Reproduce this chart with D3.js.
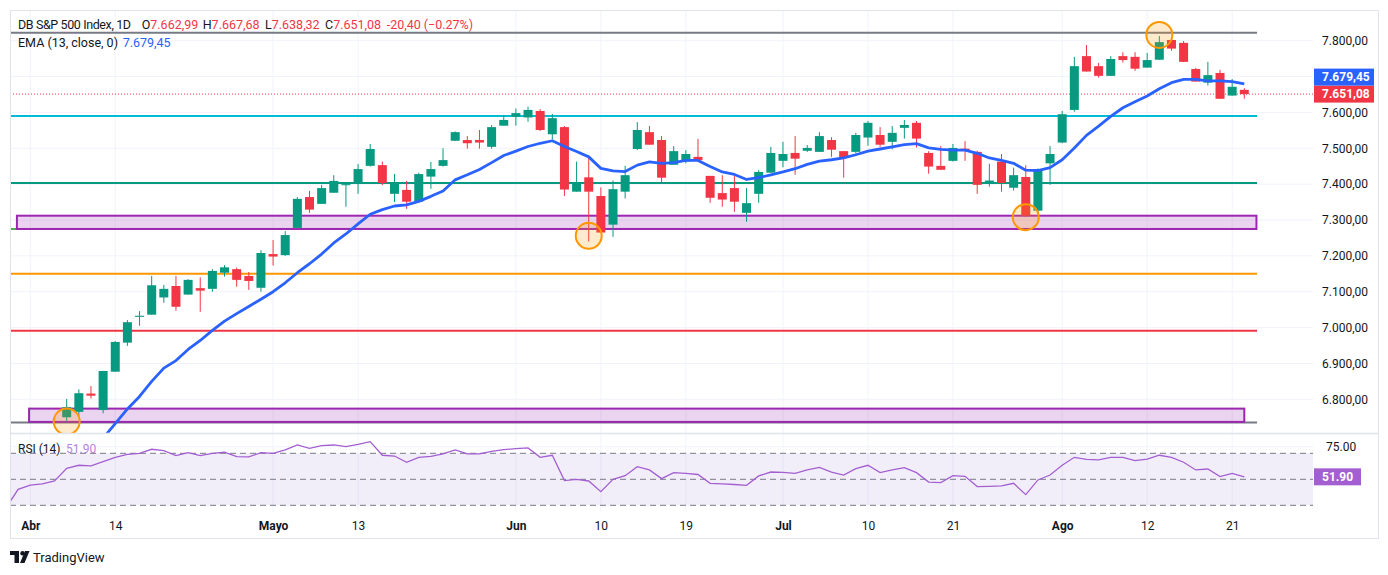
<!DOCTYPE html>
<html>
<head>
<meta charset="utf-8">
<script src="https://cdn.jsdelivr.net/npm/d3@7"></script>
<style>
  body { margin: 0; background: #fff; }
  text { font-family: Roboto, "Noto Sans", sans-serif; }
</style>
</head>
<body>
<div id="chart"></div>
<script>
// daily candles, index 0 = first visible bar
const opens  = [6750,6765,6816,6770,6877,6958,7030,7036,7084,7116,7092,7110,7108,7153,7163,7144,7111,7205,7202,7278,
                7364,7345,7376,7397,7404,7451,7453,7373,7384,7351,7421,7451,7521,7523,7523,7504,7563,7588,7586,7604,
                7539,7559,7379,7419,7367,7287,7379,7498,7545,7523,7454,7463,7476,7423,7375,7389,7320,7373,7432,7465,
                7487,7493,7490,7523,7492,7490,7530,7537,7518,7557,7571,7487,7451,7465,7499,7490,7404,7463,7390,7420,
                7326,7458,7516,7607,7757,7729,7702,7757,7755,7725,7747,7802,7794,7721,7683,7710,7647,7662.99];
const highs  = [6801,6828,6837,6879,6962,7021,7046,7144,7119,7144,7135,7140,7163,7174,7167,7155,7216,7244,7269,7364,
                7381,7398,7425,7401,7456,7512,7463,7428,7409,7432,7462,7500,7547,7534,7551,7565,7593,7611,7616,7609,
                7596,7562,7463,7479,7391,7410,7451,7573,7562,7534,7506,7495,7526,7423,7425,7425,7389,7439,7504,7518,
                7534,7509,7545,7531,7492,7543,7576,7559,7562,7579,7576,7492,7506,7512,7520,7493,7457,7484,7446,7453,
                7444,7506,7604,7755,7788,7738,7757,7768,7768,7766,7813,7802,7799,7724,7741,7719,7693,7667.68];
const lows   = [6740,6749,6802,6761,6877,6949,7005,7036,7069,7047,7092,7044,7100,7142,7114,7105,7100,7173,7200,7275,
                7320,7345,7376,7337,7373,7449,7397,7350,7331,7351,7387,7449,7520,7499,7499,7499,7563,7563,7574,7548,
                7525,7367,7379,7240,7265,7253,7360,7495,7510,7402,7454,7458,7463,7348,7337,7323,7295,7348,7432,7447,
                7426,7490,7490,7476,7418,7486,7507,7504,7497,7527,7502,7429,7440,7463,7465,7373,7393,7379,7382,7308,
                7317,7398,7514,7602,7714,7697,7702,7739,7716,7725,7747,7772,7741,7686,7675,7638,7647,7638.32];
const closes = [6778,6817,6810,6879,6960,7015,7033,7118,7108,7058,7133,7103,7158,7168,7133,7130,7208,7198,7258,7359,
                7329,7389,7409,7400,7442,7498,7403,7402,7351,7428,7442,7467,7545,7514,7516,7559,7579,7598,7607,7551,
                7584,7385,7401,7379,7265,7386,7425,7551,7510,7418,7492,7484,7467,7362,7357,7351,7347,7434,7487,7484,
                7471,7501,7534,7496,7475,7537,7571,7510,7543,7565,7527,7449,7440,7501,7493,7398,7410,7403,7425,7312,
                7440,7484,7595,7729,7714,7702,7749,7746,7722,7746,7796,7778,7741,7686,7704,7638,7671.48,7651.08];

// EMA(13), one value per bar
const emaValues = [6578,6614,6650,6692,6732,6773,6808,6850,6887,6908,6939,6964,6992,7018,7039,7059,7079,7100,7125,7153,
                   7178,7205,7236,7261,7289,7316,7329,7339,7342,7352,7366,7381,7412,7426,7441,7460,7480,7492,7505,7514,
                   7521,7505,7491,7476,7444,7437,7435,7453,7462,7458,7460,7466,7466,7449,7434,7427,7413,7418,7426,7434,
                   7443,7455,7464,7468,7473,7482,7492,7498,7504,7510,7513,7501,7497,7495,7495,7486,7473,7466,7458,7439,
                   7438,7446,7468,7501,7536,7562,7589,7613,7630,7646,7666,7683,7692,7692,7688,7688,7686,7679.45];

// RSI(14), starts 5 bars before the first visible candle
const rsiStart = -5;
const rsiValues = [28,42.3,45.6,46.4,48.7,
                   58.5,60.8,60.3,63.6,66.9,69.2,70,73.1,72,68.2,70.5,68.2,70,70.8,67.4,67.2,70.5,70,72.6,76.4,
                   73.8,75.9,76.4,75.1,76.9,79,68.5,67.9,63.1,66.9,67.7,69.5,72.6,69.5,69.5,71.5,72.8,73.6,74.1,66.9,
                   68.5,49,50,48.7,40.5,50,52.8,59.7,57.2,50.5,55.1,54.6,53.7,46.9,46.5,46,45.4,52.6,55.6,55.4,
                   54.6,57.2,59.2,55.6,53.3,58.2,60.8,55.1,57.2,59,55.1,47.9,47.4,52.8,52.3,44.4,44.6,44.9,46.9,38.2,
                   49.5,53.3,60.8,66.9,65.4,64.9,66.9,66.9,64.4,65.6,68.5,66.9,63.1,57.2,57.9,52.1,54.6,51.9];

// time axis
const tickIndex  = [-3, 4, 17, 24, 37, 44, 51, 59, 66, 73, 82, 89, 96];
const tickLabels = ["Abr","14","Mayo","13","Jun","10","19","Jul","10","21","Ago","12","21"];
const tickMonth  = [true,false,true,false,true,false,false,true,false,false,true,false,false];

// price axis
const priceTicks = d3.range(6800, 7801, 100);

// drawn horizontal levels
const levelPrices = [7822, 7590, 7403, 7150, 6991, 6735];
const levelColors = ["#787b86", "#00bcd4", "#089981", "#ff9800", "#f23645", "#787b86"];
// drawn rectangles
const zoneLow  = [7275, 6737];
const zoneHigh = [7312, 6774];
const zoneFrom = [-4.1, -3.1];
const zoneTo   = [98.0, 97.0];
// short stub left of the upper zone
const stubPrice = 7275;
// highlighted pivots
const markIndex = [90, 43, 79, 0];
const markPrice = [7816, 7256, 7308, 6738];

const width = 1388, height = 575;
const fL = 10, fR = 1378, fT = 10, fB = 538;
const plotRight = 1313;
const paneSplit = 433.5, rsiBottom = 512;

const x = d3.scaleLinear().domain([0, 97]).range([66.7, 1244.3]);
const y = d3.scaleLinear().domain([6800, 7800]).range([399.3, 40.7]);
const yr = d3.scaleLinear().domain([30, 70]).range([505.3, 453.3]);
const lineFrom = -4.7, lineTo = 98.05;

const locale = d3.formatLocale({decimal: ",", thousands: ".", grouping: [3], currency: ["", ""], minus: "-"});
const fmt = locale.format(",.2f");

const up = "#089981", down = "#f23645", grid = "#f0f3fa", textCol = "#131722";

const svg = d3.select("#chart").append("svg")
    .attr("width", width)
    .attr("height", height);

const defs = svg.append("defs");
defs.append("clipPath").attr("id", "clipPrice")
  .append("rect").attr("x", fL).attr("y", fT).attr("width", plotRight - fL).attr("height", paneSplit - fT);
defs.append("clipPath").attr("id", "clipRsi")
  .append("rect").attr("x", fL).attr("y", paneSplit).attr("width", plotRight - fL).attr("height", rsiBottom - paneSplit);

// gridlines
const gridG = svg.append("g");
gridG.selectAll("line.v")
  .data(tickIndex)
  .join("line")
    .attr("class", "v")
    .attr("x1", d => x(d)).attr("x2", d => x(d))
    .attr("y1", fT).attr("y2", rsiBottom)
    .attr("stroke", grid);
gridG.selectAll("line.h")
  .data(priceTicks)
  .join("line")
    .attr("class", "h")
    .attr("x1", fL).attr("x2", plotRight)
    .attr("y1", d => y(d)).attr("y2", d => y(d))
    .attr("stroke", grid);
gridG.append("line")
    .attr("x1", fL).attr("x2", plotRight)
    .attr("y1", yr(75)).attr("y2", yr(75))
    .attr("stroke", grid);

// ---- price pane ----
const price = svg.append("g").attr("clip-path", "url(#clipPrice)");

price.selectAll("line.level")
  .data(levelPrices)
  .join("line")
    .attr("class", "level")
    .attr("x1", x(lineFrom)).attr("x2", x(lineTo))
    .attr("y1", d => y(d)).attr("y2", d => y(d))
    .attr("stroke", (d, i) => levelColors[i])
    .attr("stroke-width", 2);

price.append("line")
    .attr("x1", x(lineFrom)).attr("x2", x(zoneFrom[0]))
    .attr("y1", y(stubPrice)).attr("y2", y(stubPrice))
    .attr("stroke", "#4caf50")
    .attr("stroke-width", 2);

price.selectAll("rect.zone")
  .data(zoneLow)
  .join("rect")
    .attr("class", "zone")
    .attr("x", (d, i) => x(zoneFrom[i]))
    .attr("width", (d, i) => x(zoneTo[i]) - x(zoneFrom[i]))
    .attr("y", (d, i) => y(zoneHigh[i]))
    .attr("height", (d, i) => y(d) - y(zoneHigh[i]))
    .attr("fill", "rgba(156,39,176,0.2)")
    .attr("stroke", "#9c27b0")
    .attr("stroke-width", 2);

// last price dotted line
const last = closes.length - 1;
price.append("line")
    .attr("x1", fL).attr("x2", plotRight)
    .attr("y1", y(closes[last])).attr("y2", y(closes[last]))
    .attr("stroke", down)
    .attr("stroke-dasharray", "1,2");

// candles
const candle = price.append("g")
  .selectAll("g")
  .data(closes)
  .join("g")
    .attr("fill", (d, i) => d >= opens[i] ? up : down)
    .attr("stroke", (d, i) => d >= opens[i] ? up : down);
candle.append("line")
    .attr("x1", (d, i) => x(i)).attr("x2", (d, i) => x(i))
    .attr("y1", (d, i) => y(highs[i])).attr("y2", (d, i) => y(lows[i]));
candle.append("rect")
    .attr("stroke", "none")
    .attr("x", (d, i) => x(i) - 4.5)
    .attr("width", 9)
    .attr("y", (d, i) => y(Math.max(d, opens[i])))
    .attr("height", (d, i) => Math.max(1, Math.abs(y(d) - y(opens[i]))));

// EMA
price.append("path")
    .datum(emaValues)
    .attr("fill", "none")
    .attr("stroke", "#2962ff")
    .attr("stroke-width", 2.8)
    .attr("stroke-linejoin", "round")
    .attr("d", d3.line().x((d, i) => x(i)).y(d => y(d)));

// pivot circles
price.selectAll("circle")
  .data(markIndex)
  .join("circle")
    .attr("cx", d => x(d))
    .attr("cy", (d, i) => y(markPrice[i]))
    .attr("r", 13)
    .attr("fill", "rgba(255,152,0,0.2)")
    .attr("stroke", "#ff9800")
    .attr("stroke-width", 2);

// price axis
const yAxis = svg.append("g")
    .attr("transform", `translate(1322,0)`)
    .call(d3.axisRight(y).tickValues(priceTicks).tickFormat(fmt).tickSize(0).tickPadding(0));
yAxis.select(".domain").remove();
yAxis.selectAll("text")
    .attr("font-size", 12)
    .attr("font-family", "Roboto, sans-serif")
    .attr("fill", textCol);

// value labels on the price axis
const lastY = y(closes[last]);
const labels = [
  {v: closes[last], col: down, cy: lastY},
  {v: emaValues[emaValues.length - 1], col: "#2962ff", cy: lastY - 17}
];
const lab = svg.append("g").selectAll("g").data(labels).join("g");
lab.append("rect")
    .attr("x", 1314).attr("width", 60)
    .attr("y", d => d.cy - 8.5).attr("height", 17)
    .attr("fill", d => d.col);
lab.append("text")
    .attr("x", 1322).attr("y", d => d.cy + 4.3)
    .attr("fill", "#fff")
    .attr("font-size", 12)
    .attr("font-weight", "bold")
    .text(d => fmt(d.v));

// legend
const legend = svg.append("g").attr("font-size", 12.5);
const chg = closes[last] - closes[last - 1];
const pct = chg / closes[last - 1] * 100;
legend.append("text").attr("x", 18).attr("y", 29).attr("fill", textCol)
    .attr("textLength", 113).attr("lengthAdjust", "spacing")
    .text("DB S&P 500 Index, 1D");
const ohlc = [["O", opens[last], 141.7], ["H", highs[last], 202.7], ["L", lows[last], 265], ["C", closes[last], 325]];
ohlc.forEach(([k, v, px]) => {
  const t = legend.append("text").attr("x", px).attr("y", 29);
  t.append("tspan").attr("fill", textCol).text(k);
  t.append("tspan").attr("fill", down).text(fmt(v));
});
legend.append("text").attr("x", 386.7).attr("y", 29).attr("fill", down)
    .text(`${fmt(chg)} (\u2212${d3.format(".2f")(Math.abs(pct))}%)`);
legend.append("text").attr("x", 18).attr("y", 47).attr("fill", textCol).text("EMA (13, close, 0)");
legend.append("text").attr("x", 122.7).attr("y", 47).attr("fill", "#2962ff").text(fmt(emaValues[emaValues.length - 1]));

// ---- RSI pane ----
const rsiG = svg.append("g").attr("clip-path", "url(#clipRsi)");
rsiG.append("rect")
    .attr("x", fL).attr("width", plotRight - fL)
    .attr("y", yr(70)).attr("height", yr(30) - yr(70))
    .attr("fill", "rgba(126,87,194,0.1)");
rsiG.selectAll("line.band")
  .data([70, 50, 30])
  .join("line")
    .attr("class", "band")
    .attr("x1", fL).attr("x2", plotRight)
    .attr("y1", d => yr(d)).attr("y2", d => yr(d))
    .attr("stroke", "#787b86")
    .attr("stroke-dasharray", "6,4");
rsiG.append("path")
    .datum(rsiValues)
    .attr("fill", "none")
    .attr("stroke", "#a35fd1")
    .attr("stroke-width", 1.3)
    .attr("d", d3.line().x((d, i) => x(i + rsiStart)).y(d => yr(d)));

svg.append("text").attr("x", 18).attr("y", 452.5).attr("font-size", 12).attr("fill", textCol).text("RSI (14)");
svg.append("text").attr("x", 66).attr("y", 452.5).attr("font-size", 12).attr("fill", "#b584dc")
    .text(d3.format(".2f")(rsiValues[rsiValues.length - 1]));
svg.append("text").attr("x", 1326).attr("y", yr(75) + 4.3).attr("font-size", 12).attr("fill", textCol).text("75.00");
const rsiLast = yr(rsiValues[rsiValues.length - 1]);
svg.append("rect").attr("x", 1314).attr("width", 47).attr("y", rsiLast - 8.5).attr("height", 17).attr("fill", "#a35fd1");
svg.append("text").attr("x", 1322).attr("y", rsiLast + 4.3).attr("font-size", 12).attr("font-weight", "bold")
    .attr("fill", "#fff").text(d3.format(".2f")(rsiValues[rsiValues.length - 1]));

// time axis
const xAxis = svg.append("g")
    .attr("transform", `translate(0,${rsiBottom})`)
    .call(d3.axisBottom(x).tickValues(tickIndex).tickFormat((d, i) => tickLabels[i]).tickSize(0).tickPadding(0));
xAxis.select(".domain").remove();
xAxis.selectAll("text")
    .attr("y", 18)
    .attr("dy", 0)
    .attr("font-size", 12)
    .attr("font-family", "Roboto, sans-serif")
    .attr("fill", textCol)
    .attr("font-weight", (d, i) => tickMonth[i] ? "bold" : "normal");

// frame
svg.append("rect")
    .attr("x", fL + 0.5).attr("y", fT + 0.5)
    .attr("width", fR - fL).attr("height", fB - fT)
    .attr("fill", "none").attr("stroke", "#e0e3eb");
svg.append("line")
    .attr("x1", fL).attr("x2", fR)
    .attr("y1", paneSplit).attr("y2", paneSplit)
    .attr("stroke", "#e0e3eb").attr("stroke-width", 1.5);

// TradingView mark
const logo = svg.append("g").attr("fill", textCol);
logo.append("path").attr("d", "M10,551 h9 v12 h-4.5 v-8 h-4.5 z");
logo.append("circle").attr("cx", 22.5).attr("cy", 553.2).attr("r", 2.2);
logo.append("path").attr("d", "M25,551 h4.5 l-5,12 h-4.5 z");
logo.append("text").attr("x", 33).attr("y", 562).attr("font-size", 13).attr("fill", textCol).text("TradingView");
</script>
</body>
</html>
